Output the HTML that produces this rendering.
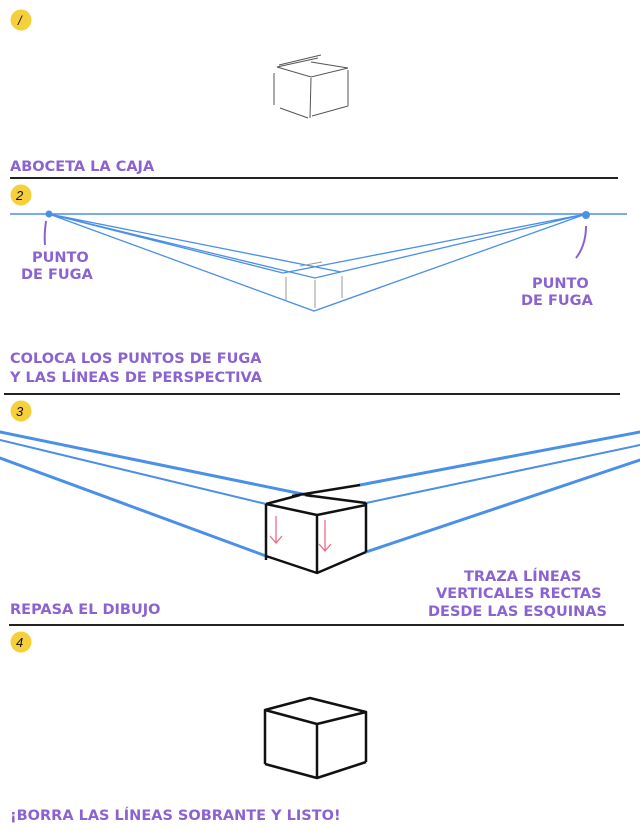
<!DOCTYPE html>
<html><head><meta charset="utf-8"><style>
html,body{margin:0;padding:0;background:#fff;}
body{width:640px;height:831px;position:relative;overflow:hidden;}
svg{position:absolute;left:0;top:0;}
.t{font-family:"DejaVu Sans","Liberation Sans",sans-serif;font-weight:bold;fill:#8b63d1;font-size:14.5px;}
.n{font-family:"Liberation Sans",sans-serif;font-style:italic;font-size:13px;fill:#111;}
</style></head><body>
<svg width="640" height="831" viewBox="0 0 640 831">
<circle cx="21" cy="20" r="10.5" fill="#f6d03a"/><text x="18" y="25" class="n">/</text>
<circle cx="21" cy="195" r="10.5" fill="#f6d03a"/><text x="16" y="200" class="n">2</text>
<circle cx="21" cy="411" r="10.5" fill="#f6d03a"/><text x="16" y="416" class="n">3</text>
<circle cx="21" cy="642" r="10.5" fill="#f6d03a"/><text x="16" y="647" class="n">4</text>

<g stroke="#555" stroke-width="1" fill="none">
<path d="M277 67 L311 77 L348 68 M277 67 L318 58 M279 65 L321 55 M311 62 L348 68 M274 73 L274 105 M311 78 L310 118 M348 70 L348 106 M280 108 L308 118 M312 116 L348 106"/>
</g>
<text x="10" y="171" class="t">ABOCETA LA CAJA</text>
<rect x="10" y="177" width="608" height="2" fill="#222"/>

<g stroke="#4a8fe8" fill="none">
<line x1="10" y1="214" x2="627" y2="214" stroke-width="1.5"/>
<path d="M49 214 L314 311 L586 214 M49 214 L341 272 M49 214 L283 273 M586 214 L283 273 M586 214 L315 278 L49 214" stroke-width="1.3"/>
<circle cx="49" cy="214" r="3" fill="#4a8fe8"/><circle cx="586" cy="215" r="3.5" fill="#4a8fe8"/>
</g>
<g stroke="#999" stroke-width="1" fill="none">
<path d="M286 277 L286 300 M315 280 L315 308 M342 276 L342 298 M300 266 L322 262"/>
</g>
<path d="M46 221 Q44 235 45 245" stroke="#8b63d1" stroke-width="2" fill="none"/>
<path d="M586 226 Q586 245 576 258" stroke="#8b63d1" stroke-width="2" fill="none"/>
<text x="32" y="262" class="t">PUNTO</text><text x="21" y="279" class="t">DE FUGA</text>
<text x="532" y="288" class="t">PUNTO</text><text x="521" y="305" class="t">DE FUGA</text>
<text x="10" y="363" class="t">COLOCA LOS PUNTOS DE FUGA</text>
<text x="10" y="382" class="t">Y LAS LÍNEAS DE PERSPECTIVA</text>
<rect x="4" y="393" width="616" height="2" fill="#222"/>

<g stroke="#4a8fe8" fill="none" stroke-linecap="round">
<path d="M0 432 L312 496 M360 485 L640 432" stroke-width="3"/>
<path d="M0 440 L266 504 M640 445 L366 503" stroke-width="2"/>
<path d="M0 458 L266 556 M640 460 L366 552" stroke-width="3"/>
</g>
<g stroke="#111" stroke-width="2.5" fill="none" stroke-linejoin="round">
<path d="M266 504 L300 495 M292 496 L360 485 M305 495 L366 503 M266 504 L317 515 L366 505 M266 504 L266 560 M317 515 L317 573 M366 503 L366 552 M266 556 L317 573 L366 552"/>
</g>
<path d="M276 516 V543 M270 536 L276 543 L282 536 M325 520 V551 M319 544 L325 551 L331 544" stroke="#f06a8a" stroke-width="1.3" fill="none"/>
<text x="464" y="581" class="t">TRAZA LÍNEAS</text>
<text x="436" y="598" class="t">VERTICALES RECTAS</text>
<text x="428" y="616" class="t">DESDE LAS ESQUINAS</text>
<text x="10" y="614" class="t">REPASA EL DIBUJO</text>
<rect x="9" y="624" width="615" height="2" fill="#222"/>

<g stroke="#111" stroke-width="2.5" fill="none" stroke-linejoin="round">
<path d="M265 710 L310 698 L366 712 L317 724 Z M265 710 L265 764 M317 724 L317 778 M366 712 L366 762 M265 764 L317 778 L366 762"/>
</g>
<text x="10" y="820" class="t">¡BORRA LAS LÍNEAS SOBRANTE Y LISTO!</text>
</svg>
</body></html>
